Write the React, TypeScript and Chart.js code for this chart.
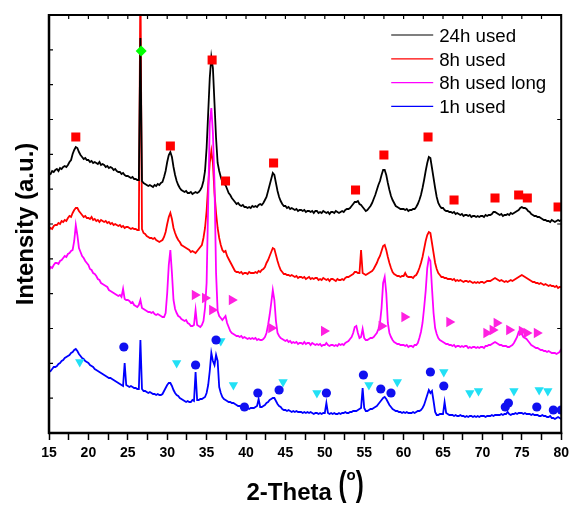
import { useEffect, useRef } from 'react';
import { Chart, registerables } from 'chart.js';

Chart.register(...registerables);

const FONT = "'Liberation Sans', Arial, Helvetica, sans-serif";

// Diffractometer sampling grid (degrees 2-theta)
const TWO_THETA_START = 15;
const TWO_THETA_STEP = 0.2;

// Intensities (a.u., stacked with offsets) sampled every 0.2 deg from 15 to 80
const int24h = [
  260, 259, 262, 261, 263, 264, 262, 265, 264, 266, 267, 266, 268, 271, 273,
  279, 283, 286, 285, 281, 278, 276, 274, 275, 273, 273, 271, 272, 270, 271,
  270, 269, 271, 268, 269, 268, 266, 267, 265, 266, 265, 263, 264, 262, 261,
  261, 259, 260, 258, 257, 257, 256, 255, 256, 254, 254, 253, 253, 395, 252,
  250, 249, 248, 247, 248, 247, 246, 248, 247, 249, 248, 250, 251, 256, 262,
  271, 278, 281, 276, 266, 258, 252, 248, 245, 243, 242, 241, 242, 240, 240,
  241, 239, 240, 241, 240, 241, 243, 246, 252, 262, 285, 320, 355, 376, 365,
  330, 295, 270, 262, 256, 251, 249, 248, 244, 240, 238, 235, 233, 231, 229,
  230, 228, 227, 228, 226, 226, 225, 226, 225, 227, 226, 227, 226, 228, 229,
  228, 230, 233, 236, 242, 248, 254, 260, 258, 250, 242, 236, 232, 229, 227,
  227, 225, 226, 224, 225, 224, 223, 224, 222, 223, 223, 222, 223, 221, 222,
  222, 221, 222, 220, 222, 222, 220, 221, 220, 222, 221, 220, 221, 219, 221,
  221, 220, 222, 221, 220, 221, 222, 221, 223, 224, 224, 225, 227, 229, 231,
  231, 232, 229, 228, 226, 224, 222, 223, 225, 227, 230, 234, 238, 243, 248,
  252, 258, 263, 263, 258, 250, 243, 237, 233, 230, 227, 226, 225, 224, 224,
  224, 223, 224, 222, 223, 223, 224, 224, 226, 229, 233, 238, 245, 253, 262,
  270, 276, 275, 265, 255, 245, 236, 230, 227, 225, 225, 223, 222, 222, 221,
  221, 220, 221, 219, 220, 219, 218, 219, 217, 218, 218, 217, 218, 216, 217,
  217, 216, 217, 216, 217, 217, 216, 218, 217, 218, 218, 219, 221, 221, 220,
  219, 218, 219, 217, 218, 218, 219, 218, 220, 219, 220, 221, 222, 223, 225,
  226, 225, 225, 224, 222, 221, 219, 218, 217, 217, 216, 216, 215, 214, 213,
  213, 212, 212, 211, 213, 212, 211, 212, 213, 212, 213,
];

const int8h = [
  203, 205, 204, 207, 208, 208, 210, 209, 212, 211, 213, 212, 215, 217, 216,
  220, 223, 225, 225, 222, 220, 218, 216, 217, 215, 215, 214, 216, 213, 214,
  212, 213, 211, 213, 212, 211, 212, 210, 211, 209, 210, 208, 209, 208, 207,
  208, 206, 207, 205, 206, 206, 205, 204, 205, 204, 204, 203, 203, 460, 204,
  200, 199, 197, 196, 195, 195, 194, 195, 193, 192, 191, 192, 193, 196, 201,
  209, 216, 220, 214, 205, 200, 196, 193, 191, 188, 187, 186, 185, 184, 183,
  181, 182, 181, 180, 182, 184, 186, 188, 195, 205, 222, 248, 270, 282, 270,
  240, 220, 205, 195, 188, 183, 181, 182, 177, 174, 171, 168, 165, 162, 161,
  161, 160, 161, 159, 160, 160, 159, 161, 160, 160, 160, 161, 160, 162, 161,
  163, 164, 166, 170, 173, 177, 181, 185, 184, 178, 172, 167, 163, 161, 159,
  159, 158, 158, 157, 158, 157, 156, 157, 155, 156, 156, 155, 156, 154, 155,
  156, 154, 155, 154, 155, 155, 153, 154, 153, 155, 154, 153, 154, 152, 154,
  154, 153, 152, 154, 153, 153, 154, 153, 155, 156, 156, 157, 158, 159, 161,
  161, 160, 160, 183, 160, 159, 158, 159, 160, 161, 162, 164, 167, 170, 174,
  177, 182, 187, 188, 183, 176, 170, 165, 161, 159, 158, 157, 157, 156, 157,
  157, 160, 157, 156, 156, 156, 155, 157, 158, 161, 165, 170, 176, 184, 192,
  198, 201, 200, 190, 180, 170, 164, 160, 158, 156, 156, 155, 155, 154, 154,
  154, 153, 154, 152, 153, 152, 153, 152, 151, 152, 152, 151, 152, 151, 150,
  151, 150, 151, 150, 151, 151, 150, 151, 152, 152, 152, 153, 154, 155, 154,
  153, 152, 153, 152, 151, 152, 151, 152, 153, 152, 153, 154, 155, 156, 157,
  158, 157, 156, 155, 154, 153, 152, 151, 151, 150, 150, 149, 150, 149, 148,
  149, 148, 147, 148, 147, 147, 146, 147, 145, 146, 146,
];

const int8hLong = [
  163, 166, 165, 168, 170, 170, 169, 172, 173, 175, 177, 176, 179, 180, 182,
  183, 192, 208, 198, 185, 181, 177, 175, 172, 170, 168, 164, 163, 160, 159,
  157, 154, 153, 150, 149, 148, 147, 146, 143, 142, 141, 140, 139, 138, 137,
  138, 136, 144, 134, 133, 133, 132, 130, 131, 128, 127, 126, 128, 133, 125,
  124, 123, 122, 121, 121, 120, 121, 119, 118, 119, 118, 117, 116, 116, 120,
  140, 168, 183, 160, 133, 124, 120, 117, 116, 114, 113, 112, 113, 110, 109,
  107, 107, 108, 123, 108, 107, 106, 108, 112, 125, 150, 230, 310, 325, 300,
  250, 160, 122, 117, 115, 113, 115, 117, 110, 106, 102, 100, 99, 98, 97,
  97, 96, 97, 95, 96, 95, 94, 95, 94, 95, 94, 95, 93, 94, 93,
  93, 94, 96, 100, 108, 118, 130, 143, 133, 112, 100, 97, 95, 94, 93,
  92, 93, 91, 92, 90, 91, 90, 91, 89, 90, 90, 89, 91, 89, 90,
  90, 88, 90, 89, 88, 89, 88, 89, 87, 88, 88, 90, 88, 87, 88,
  88, 87, 88, 87, 89, 88, 89, 88, 90, 91, 92, 94, 96, 100, 106,
  107, 100, 95, 96, 104, 95, 93, 93, 94, 95, 95, 96, 98, 100, 104,
  110, 125, 150, 156, 140, 110, 100, 96, 93, 91, 90, 89, 89, 88, 88,
  88, 87, 88, 86, 87, 87, 86, 88, 88, 90, 95, 101, 110, 125, 142,
  165, 175, 172, 145, 120, 105, 99, 95, 93, 92, 91, 90, 89, 89, 88,
  88, 87, 88, 86, 87, 87, 86, 87, 86, 87, 87, 85, 86, 85, 86,
  86, 85, 86, 85, 86, 86, 85, 87, 87, 88, 88, 89, 90, 91, 90,
  89, 88, 88, 87, 87, 87, 86, 86, 87, 88, 90, 93, 96, 101, 103,
  99, 96, 95, 94, 92, 90, 88, 87, 86, 85, 85, 84, 83, 83, 82,
  82, 81, 82, 81, 80, 80, 80, 79, 80, 81, 84,
];

const int1h = [
  61, 62, 64, 66, 66, 67, 69, 70, 72, 73, 75, 76, 77, 78, 80,
  81, 83, 84, 82, 79, 77, 75, 74, 72, 71, 70, 68, 67, 66, 64,
  63, 62, 61, 60, 59, 58, 57, 56, 55, 55, 54, 53, 52, 51, 50,
  49, 48, 47, 70, 48, 47, 46, 47, 46, 45, 45, 44, 44, 93, 44,
  42, 42, 41, 40, 41, 40, 39, 39, 38, 39, 38, 38, 39, 42, 45,
  48, 50, 50, 47, 43, 40, 38, 37, 35, 34, 33, 32, 31, 32, 31,
  31, 33, 32, 61, 33, 33, 34, 34, 35, 36, 40, 48, 62, 80, 72,
  68, 78, 72, 46, 40, 36, 34, 33, 32, 31, 31, 30, 30, 29, 28,
  27, 27, 26, 25, 25, 24, 25, 24, 25, 25, 25, 26, 27, 34, 26,
  26, 27, 28, 30, 31, 33, 34, 35, 35, 32, 29, 27, 26, 24, 23,
  23, 22, 23, 22, 21, 22, 21, 22, 21, 21, 21, 20, 21, 20, 21,
  20, 21, 20, 19, 20, 20, 19, 20, 19, 20, 20, 30, 20, 19, 20,
  19, 20, 19, 19, 20, 19, 20, 20, 21, 20, 20, 21, 21, 22, 22,
  22, 23, 24, 25, 45, 25, 22, 22, 23, 24, 24, 25, 26, 27, 29,
  31, 33, 35, 36, 34, 31, 28, 26, 24, 23, 22, 22, 21, 21, 20,
  21, 20, 21, 20, 20, 20, 21, 20, 21, 22, 22, 23, 25, 28, 33,
  38, 43, 40, 42, 32, 21, 18, 18, 19, 19, 19, 31, 20, 19, 18,
  18, 18, 17, 18, 17, 17, 18, 17, 17, 16, 17, 16, 17, 17, 16,
  17, 16, 17, 16, 17, 17, 17, 16, 17, 17, 17, 18, 17, 18, 18,
  18, 18, 19, 18, 19, 19, 21, 19, 18, 19, 19, 20, 19, 20, 20,
  20, 19, 20, 19, 19, 19, 18, 19, 18, 18, 18, 17, 17, 18, 17,
  17, 16, 16, 17, 15, 15, 14, 15, 16, 15, 14,
];

// Phase reflection markers: [2-theta, intensity]
const squareMarks = [
  [18.4, 296], [30.4, 287], [35.7, 373], [37.4, 252], [43.5, 270], [53.9, 243],
  [57.5, 278], [63.1, 296], [66.4, 233], [71.6, 235], [74.6, 238], [75.7, 235],
  [79.6, 226],
];
const diamondMarks = [[26.7, 382]];
const rightTriangleMarks = [
  [33.5, 138], [34.8, 135], [35.7, 123], [38.2, 133], [43.2, 105], [49.9, 102],
  [57.2, 107], [60.1, 116], [65.8, 111], [70.5, 100], [71.3, 103], [71.8, 110],
  [73.4, 103], [75.0, 102], [75.6, 100], [76.9, 100],
];
const circleMarks = [
  [24.5, 86], [33.6, 68], [36.2, 93], [39.8, 26], [41.5, 40], [44.2, 43],
  [50.2, 40], [54.9, 58], [57.1, 44], [58.4, 40], [63.4, 61], [65.1, 47],
  [72.9, 26], [73.3, 30], [76.9, 26], [79.0, 23], [80.0, 23],
];
const downTriangleMarks = [
  [18.9, 71], [31.2, 70], [36.8, 92], [38.4, 48], [44.7, 51], [49.0, 40],
  [55.6, 48], [59.2, 51], [65.1, 61], [68.4, 40], [69.5, 42], [74.0, 42],
  [77.2, 43], [78.3, 42],
];

const Y_MAX = 418;
const Y_LEFT_TICKS = [34.8, 69.7, 104.5, 139.3, 174.2, 209, 243.8, 278.7, 313.5, 348.3, 383.2];
const Y_RIGHT_TICKS = [104.5, 209, 313.5];

const toPoints = (vals: number[]) =>
  vals.map((y, i) => ({ x: +(TWO_THETA_START + i * TWO_THETA_STEP).toFixed(1), y }));
const markPoints = (marks: number[][]) => marks.map(([x, y]) => ({ x, y }));

const lineSet = (label: string, color: string, vals: number[], order: number) => ({
  label,
  data: toPoints(vals),
  borderColor: color,
  backgroundColor: color,
  borderWidth: 1.8,
  pointRadius: 0,
  tension: 0,
  fill: false,
  order,
  inLegend: true,
});

const markSet = (label: string, color: string, marks: number[][], style: string, radius: number, rotation = 0) => ({
  label,
  data: markPoints(marks),
  showLine: false,
  pointStyle: style,
  pointRadius: radius,
  pointRotation: rotation,
  pointBackgroundColor: color,
  pointBorderColor: color,
  pointBorderWidth: 0,
  backgroundColor: color,
  borderColor: color,
  order: 0,
  clip: 0,
  inLegend: false,
});

const framePlugin = {
  id: 'frame',
  afterDatasetsDraw(chart: any) {
    const { ctx, chartArea, scales } = chart;
    const { left, right, top, bottom } = chartArea;
    const x = scales.x;
    const y = scales.y;
    ctx.save();
    ctx.strokeStyle = '#000';
    ctx.lineWidth = 1.2;
    ctx.beginPath();
    for (const t of x.ticks) {
      const px = x.getPixelForValue(t.value);
      ctx.moveTo(px, top);
      ctx.lineTo(px, top + 4);
    }
    for (const v of Y_LEFT_TICKS) {
      const py = y.getPixelForValue(v);
      ctx.moveTo(left, py);
      ctx.lineTo(left + 4, py);
    }
    for (const v of Y_RIGHT_TICKS) {
      const py = y.getPixelForValue(v);
      ctx.moveTo(right, py);
      ctx.lineTo(right - 4, py);
    }
    ctx.stroke();
    ctx.lineWidth = 2;
    ctx.strokeRect(left, top, right - left, bottom - top);
    ctx.lineWidth = 2.5;
    ctx.beginPath();
    ctx.moveTo(left, top - 1);
    ctx.lineTo(left, bottom + 1);
    ctx.moveTo(left - 1, bottom);
    ctx.lineTo(right + 1, bottom);
    ctx.stroke();
    ctx.restore();
  },
};

const annotationPlugin = {
  id: 'annotations',
  afterDraw(chart: any) {
    const { ctx, chartArea, data } = chart;
    const { left, right, top, bottom } = chartArea;
    ctx.save();
    ctx.fillStyle = '#000';

    // legend inside the plot, upper right
    const items = data.datasets.filter((d: any) => d.inLegend);
    ctx.font = `18.7px ${FONT}`;
    ctx.textAlign = 'left';
    ctx.textBaseline = 'alphabetic';
    items.forEach((d: any, i: number) => {
      const rowY = top + 20 + i * 23.8;
      ctx.strokeStyle = d.borderColor;
      ctx.lineWidth = 1.2;
      ctx.beginPath();
      ctx.moveTo(right - 170, rowY);
      ctx.lineTo(right - 128, rowY);
      ctx.stroke();
      ctx.fillStyle = '#000';
      ctx.fillText(d.label, right - 122, rowY + 6.7);
    });

    // x-axis title: "2-Theta (o)" with tall parentheses and superscript o
    const main = '2-Theta ';
    const bigFont = `bold 24px ${FONT}`;
    const supFont = `bold 15px ${FONT}`;
    ctx.font = bigFont;
    const wMain = ctx.measureText(main).width;
    const wParen = ctx.measureText('(').width;
    ctx.font = supFont;
    const wSup = ctx.measureText('o').width;
    const total = wMain + wParen + wSup + wParen;
    let cx = (left + right) / 2 - total / 2;
    const base = bottom + 67;
    const drawParen = (p: string, px: number) => {
      ctx.save();
      ctx.translate(px, base - 4.5);
      ctx.scale(1, 1.45);
      ctx.font = bigFont;
      ctx.fillText(p, 0, 0);
      ctx.restore();
    };
    ctx.font = bigFont;
    ctx.fillText(main, cx, base);
    cx += wMain;
    drawParen('(', cx);
    cx += wParen;
    ctx.font = supFont;
    ctx.fillText('o', cx, base - 20);
    cx += wSup;
    drawParen(')', cx);

    // y-axis title
    ctx.translate(left - 16, (top + bottom) / 2);
    ctx.rotate(-Math.PI / 2);
    ctx.textAlign = 'center';
    ctx.font = bigFont;
    ctx.fillText('Intensity (a.u.)', 0, 0);
    ctx.restore();
  },
};

export default function App() {
  const ref = useRef<HTMLCanvasElement | null>(null);

  useEffect(() => {
    document.body.style.margin = '0';
    const canvas = ref.current;
    if (!canvas) return;
    const chart = new Chart(canvas, {
      type: 'line',
      data: {
        datasets: [
          lineSet('24h used', '#000000', int24h, 1),
          lineSet('8h used', '#ff0000', int8h, 3),
          lineSet('8h used long', '#ff00ff', int8hLong, 2),
          lineSet('1h used', '#0000ff', int1h, 4),
          markSet('squares', '#ff0000', squareMarks, 'rect', 6.4),
          markSet('diamond', '#00ff00', diamondMarks, 'rectRot', 5.5),
          markSet('right triangles', '#ff20e0', rightTriangleMarks, 'triangle', 6, 90),
          markSet('circles', '#1010f0', circleMarks, 'circle', 4.6),
          markSet('down triangles', '#22e0f5', downTriangleMarks, 'triangle', 5.4, 180),
        ] as any,
      },
      options: {
        responsive: false,
        animation: false,
        devicePixelRatio: 1,
        layout: { padding: { top: 15, right: 9, left: 0, bottom: 0 } },
        plugins: {
          legend: { display: false },
          tooltip: { enabled: false },
        },
        scales: {
          x: {
            type: 'linear',
            min: 15,
            max: 80,
            afterFit: (s: any) => {
              s.height = 73;
            },
            ticks: {
              stepSize: 2.5,
              autoSkip: false,
              maxRotation: 0,
              padding: 5,
              color: '#000',
              font: { family: FONT, size: 14, weight: 'bold' },
              callback: (v: any) => (Number(v) % 5 === 0 ? String(v) : ''),
            },
            grid: {
              display: true,
              drawOnChartArea: false,
              drawTicks: true,
              tickLength: 7,
              tickColor: '#000',
              tickWidth: 1.5,
            },
            border: { display: false },
          },
          y: {
            type: 'linear',
            min: 0,
            max: Y_MAX,
            afterFit: (s: any) => {
              s.width = 49;
            },
            ticks: { display: false },
            grid: { display: false, drawTicks: false },
            border: { display: false },
          },
        },
      } as any,
      plugins: [framePlugin, annotationPlugin],
    });
    return () => chart.destroy();
  }, []);

  return <canvas ref={ref} width={574} height={506} style={{ display: 'block' }} />;
}
